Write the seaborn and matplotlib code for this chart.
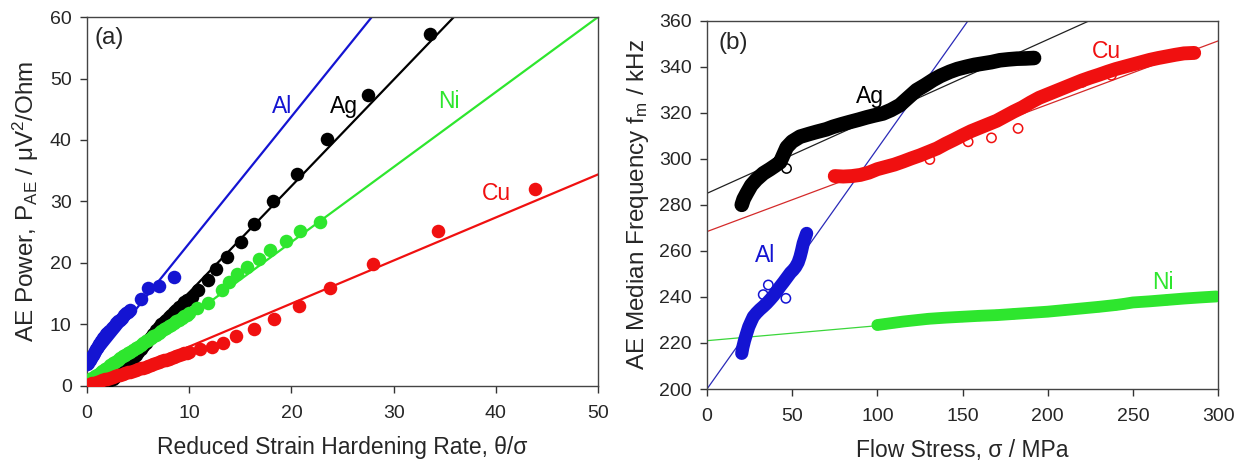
import numpy as np
import pandas as pd
import matplotlib
matplotlib.use("Agg")
import matplotlib.pyplot as plt
import seaborn as sns

# ---------------- Panel (a) data: P_AE vs reduced strain hardening rate ----------------
al_theta = [0.0, 0.1, 0.2, 0.3, 0.4, 0.5, 0.6, 0.7, 0.8, 0.9, 1.0, 1.1, 1.2, 1.3, 1.4, 1.5,
            1.6, 1.7, 1.8, 1.9, 2.0, 2.2, 2.4, 2.6, 2.8, 3.0, 3.2, 3.4, 3.6, 3.8, 4.0, 4.2,
            5.3, 6.0, 7.0, 8.5]
al_power = [3.6, 3.8, 4.0, 4.2, 4.5, 4.8, 5.1, 5.4, 5.7, 6.0, 6.25, 6.5, 6.75, 7.0, 7.25, 7.5,
            7.75, 8.0, 8.2, 8.4, 8.6, 9.0, 9.4, 9.8, 10.2, 10.5, 10.8, 11.1, 11.5, 11.8, 12.1, 12.4,
            14.2, 15.9, 16.3, 17.7]

ag_theta = [0.0, 0.25, 0.5, 0.75, 1.0, 1.25, 1.5, 1.75, 2.0, 2.25, 2.5, 2.75, 3.0, 3.25, 3.5,
            3.75, 4.0, 4.25, 4.5, 4.75, 5.0, 5.25, 5.5, 5.75, 6.0, 6.25, 6.5, 6.75, 7.0, 7.25,
            7.5, 7.75, 8.0, 8.25, 8.5, 8.75, 9.0, 9.25, 9.5, 9.75, 10.3, 10.9, 11.8, 12.6,
            13.7, 15.1, 16.3, 18.2, 20.5, 23.5, 27.5, 33.6]
ag_power = [0.2, 0.2, 0.2, 0.25, 0.3, 0.4, 0.5, 0.65, 0.8, 1.0, 1.2, 1.5, 1.8, 2.2, 2.6,
            3.05, 3.5, 4.0, 4.5, 5.0, 5.5, 6.0, 6.5, 7.0, 7.5, 8.0, 8.5, 9.05, 9.6, 10.0,
            10.4, 10.8, 11.2, 11.6, 12.0, 12.4, 12.8, 13.2, 13.6, 14.05, 14.5, 15.6, 17.2, 19.0,
            21.0, 23.4, 26.3, 30.1, 34.5, 40.1, 47.3, 57.3]

ni_theta = [0.0, 0.25, 0.5, 0.75, 1.0, 1.25, 1.5, 1.75, 2.0, 2.25, 2.5, 2.75, 3.0, 3.25, 3.5,
            3.75, 4.0, 4.25, 4.5, 4.75, 5.0, 5.25, 5.5, 5.75, 6.0, 6.25, 6.5, 6.75, 7.0, 7.25,
            7.5, 7.75, 8.0, 8.25, 8.5, 8.75, 9.0, 9.25, 9.5, 9.75, 10.0, 10.8, 11.8, 13.2,
            13.9, 14.7, 15.7, 16.8, 17.9, 19.5, 20.8, 22.8]
ni_power = [0.8, 1.05, 1.3, 1.55, 1.8, 2.1, 2.4, 2.7, 3.0, 3.35, 3.7, 3.95, 4.2, 4.5, 4.8,
            5.05, 5.3, 5.6, 5.9, 6.15, 6.4, 6.7, 7.0, 7.25, 7.5, 7.8, 8.1, 8.35, 8.6, 8.9,
            9.2, 9.45, 9.7, 9.95, 10.2, 10.5, 10.8, 11.05, 11.3, 11.55, 11.8, 12.7, 13.5, 15.6,
            16.9, 18.2, 19.4, 20.7, 22.1, 23.6, 25.2, 26.7]

cu_theta = [0.0, 0.25, 0.5, 0.75, 1.0, 1.25, 1.5, 1.75, 2.0, 2.25, 2.5, 2.75, 3.0, 3.25, 3.5,
            3.75, 4.0, 4.25, 4.5, 4.75, 5.0, 5.25, 5.5, 5.75, 6.0, 6.25, 6.5, 6.75, 7.0, 7.25,
            7.5, 7.75, 8.0, 8.25, 8.5, 8.75, 9.0, 9.25, 9.5, 9.75, 10.0, 11.1, 12.2, 13.3,
            14.6, 16.3, 18.3, 20.7, 23.8, 28.0, 34.3, 43.8]
cu_power = [0.1, 0.25, 0.4, 0.55, 0.7, 0.85, 1.0, 1.1, 1.2, 1.3, 1.4, 1.55, 1.7, 1.85, 2.0,
            2.1, 2.2, 2.35, 2.5, 2.65, 2.8, 2.9, 3.0, 3.15, 3.3, 3.45, 3.6, 3.75, 3.9, 4.05,
            4.2, 4.3, 4.4, 4.55, 4.7, 4.85, 5.0, 5.15, 5.3, 5.4, 5.5, 6.0, 6.4, 7.0,
            8.1, 9.3, 10.9, 13.0, 15.9, 19.9, 25.2, 32.0]

# linear fits (intercept, slope) for panel (a)
fit_a_metals = ["Al", "Ag", "Ni", "Cu"]
fit_a_intercept = [2.6, -2.1, -1.0, -0.6]
fit_a_slope = [2.06, 1.73, 1.22, 0.70]

# ---------------- Panel (b) data: median frequency vs flow stress ----------------
ag_sigma = [20.4, 21.5, 23.3, 26, 29, 33.1, 37, 40, 42.9, 45, 46.8, 50, 54.6, 60, 64.3, 70,
            74.0, 79, 83.9, 89, 93.7, 98, 103.3, 108, 113.2, 118, 123, 128, 132.6, 137,
            142.5, 147, 152.3, 157, 162, 167, 171.9, 177, 182, 187, 192]
ag_fm = [280, 282.5, 285, 288.5, 291, 293.7, 295.5, 297, 298.5, 302, 305, 307.5, 309.6,
         310.8, 311.7, 312.8, 313.9, 315, 316, 317, 318, 318.8, 319.7, 321.2, 323.3, 326.5,
         329.8, 332, 334.2, 336, 337.8, 339, 340, 340.8, 341.4, 342, 342.8, 343.2, 343.5,
         343.6, 343.8]

cu_sigma = [75, 80, 85, 90, 95, 100, 105, 110, 115, 120, 125, 130, 135, 140, 145, 150, 155,
            160, 165, 170, 175, 180, 185, 190, 195, 200, 205, 210, 215, 220, 225, 230, 235,
            240, 245, 250, 255, 260, 265, 270, 275, 280, 286]
cu_fm = [292.5, 292.3, 292.5, 293, 294, 295.5, 296.5, 297.5, 298.8, 300.2, 301.5, 303, 304.5,
         306.5, 308.3, 310.2, 312, 313.5, 315, 316.5, 318.5, 320.5, 322.3, 324.5, 326.5, 328,
         329.5, 331, 332.5, 334, 335.3, 336.5, 337.8, 339, 340, 341, 342, 343, 343.8, 344.5,
         345.2, 345.8, 346]

al_sigma = [20.4, 21, 22, 23.3, 24.5, 26, 27.2, 29, 31, 33, 35, 37, 39, 41, 42.8, 45, 47, 49,
            50.6, 52, 53.5, 54.6, 55.5, 56.5, 57.5, 58.5]
al_fm = [215.5, 218, 221, 224.2, 227, 229.5, 231.4, 233, 234.5, 235.8, 237.2, 238.8, 240.5,
         242.5, 244.4, 246.5, 248.5, 250.5, 251.7, 253, 255, 257.4, 260, 263.3, 265.5, 267.6]

ni_sigma = [100, 105, 110, 115, 120, 130, 140, 150, 160, 170, 180, 190, 200, 210, 220, 230,
            240, 245, 250, 260, 270, 280, 290, 299]
ni_fm = [227.8, 228.3, 228.8, 229.3, 229.7, 230.5, 231, 231.4, 231.8, 232.1, 232.6, 233.1,
         233.6, 234.3, 235, 235.7, 236.5, 237, 237.6, 238.1, 238.7, 239.3, 239.8, 240.2]

# scattered outlying open circles
out_metal = ["Al", "Al", "Al", "Ag", "Cu", "Cu", "Cu", "Cu", "Cu", "Cu"]
out_sigma = [36.0, 46.3, 33.0, 46.7, 130.8, 153.3, 167.0, 182.6, 220.3, 237.4]
out_fm = [245.2, 239.4, 241.0, 295.8, 299.7, 307.4, 309.1, 313.2, 333.2, 336.3]

# linear fits (intercept, slope) for panel (b)
fit_b_metals = ["Al", "Ag", "Ni", "Cu"]
fit_b_intercept = [200.0, 285.0, 221.0, 268.4]
fit_b_slope = [1.044, 0.334, 0.065, 0.276]

colors = {"Al": "#1414d2", "Ag": "#000000", "Ni": "#2ee62e", "Cu": "#f01010"}
line_colors_b = {"Al": "#2a2ab8", "Ag": "#202020", "Ni": "#3ad63a", "Cu": "#d42a2a"}
band_width_b = {"Al": 9.5, "Ag": 10.5, "Ni": 8.5, "Cu": 10.0}

# ---------------- style ----------------
sns.set_theme(style="ticks")
plt.rcParams["font.family"] = ["Liberation Sans", "DejaVu Sans"]
plt.rcParams["mathtext.fontset"] = "custom"
plt.rcParams["mathtext.rm"] = "Liberation Sans"
plt.rcParams["mathtext.it"] = "Liberation Sans:italic"
plt.rcParams["mathtext.bf"] = "Liberation Sans:bold"

fig = plt.figure(figsize=(12.48, 4.65), dpi=100)
axA = fig.add_axes([0.0697, 0.170, 0.4095, 0.7934])
axB = fig.add_axes([0.5665, 0.1634, 0.4095, 0.7921])

TICK_FS = 14
XLAB_FS = 16.5
YLAB_FS = 17.5
TXT_FS = 16.5

# ---- panel (a) ----
xs = np.array([0.0, 50.0])
for m, b0, b1 in zip(fit_a_metals, fit_a_intercept, fit_a_slope):
    df = pd.DataFrame({"x": xs, "y": b0 + b1 * xs})
    sns.lineplot(data=df, x="x", y="y", ax=axA, color=colors[m], lw=1.6, zorder=2)

series_a = [("Ag", ag_theta, ag_power), ("Ni", ni_theta, ni_power),
            ("Cu", cu_theta, cu_power), ("Al", al_theta, al_power)]
for m, xv, yv in series_a:
    df = pd.DataFrame({"x": xv, "y": yv})
    sns.scatterplot(data=df, x="x", y="y", ax=axA, color=colors[m], s=95,
                    linewidth=0, zorder=3)

axA.set_xlim(0, 50)
axA.set_ylim(0, 60)
axA.set_xticks([0, 10, 20, 30, 40, 50])
axA.set_yticks([0, 10, 20, 30, 40, 50, 60])
axA.set_xlabel("Reduced Strain Hardening Rate, θ/σ", fontsize=XLAB_FS, labelpad=10)
axA.set_ylabel(r"AE Power, P$_{\mathrm{AE}}$ / μV$^{2}$/Ohm", fontsize=YLAB_FS, labelpad=6)
axA.text(0.014, 0.943, "(a)", transform=axA.transAxes, fontsize=17.5, va="center", ha="left")
axA.text(19.05, 45.5, "Al", color=colors["Al"], fontsize=TXT_FS, ha="center", va="center")
axA.text(25.1, 45.5, "Ag", color=colors["Ag"], fontsize=TXT_FS, ha="center", va="center")
axA.text(35.4, 46.2, "Ni", color=colors["Ni"], fontsize=TXT_FS, ha="center", va="center")
axA.text(40.1, 31.3, "Cu", color=colors["Cu"], fontsize=TXT_FS, ha="center", va="center")

# ---- panel (b) ----
xb = np.array([0.0, 300.0])
for m, b0, b1 in zip(fit_b_metals, fit_b_intercept, fit_b_slope):
    df = pd.DataFrame({"x": xb, "y": b0 + b1 * xb})
    sns.lineplot(data=df, x="x", y="y", ax=axB, color=line_colors_b[m], lw=0.9, zorder=2)

series_b = [("Ag", ag_sigma, ag_fm), ("Cu", cu_sigma, cu_fm),
            ("Ni", ni_sigma, ni_fm), ("Al", al_sigma, al_fm)]
for m, xv, yv in series_b:
    df = pd.DataFrame({"x": xv, "y": yv})
    sns.lineplot(data=df, x="x", y="y", ax=axB, color=colors[m], lw=band_width_b[m],
                 solid_capstyle="round", solid_joinstyle="round", zorder=3, sort=False)
    sns.scatterplot(data=df, x="x", y="y", ax=axB, s=45, facecolor="none",
                    edgecolor=colors[m], linewidth=1.0, zorder=4)

out_df = pd.DataFrame({"x": out_sigma, "y": out_fm, "metal": out_metal})
sns.scatterplot(data=out_df, x="x", y="y", hue="metal", palette=colors, ax=axB, s=45,
                facecolor="none", linewidth=1.1, legend=False, zorder=4)
for coll in axB.collections[-1:]:
    coll.set_facecolor("none")
    coll.set_edgecolor([colors[m] for m in out_metal])

axB.set_xlim(0, 300)
axB.set_ylim(200, 360)
axB.set_xticks([0, 50, 100, 150, 200, 250, 300])
axB.set_yticks(list(range(200, 361, 20)))
axB.set_xlabel(r"Flow Stress, σ / MPa", fontsize=XLAB_FS, labelpad=10)
axB.set_ylabel(r"AE Median Frequency f$_{\mathrm{m}}$ / kHz", fontsize=YLAB_FS, labelpad=6)
axB.text(0.022, 0.94, "(b)", transform=axB.transAxes, fontsize=17.5, va="center", ha="left")
axB.text(95.6, 326.9, "Ag", color=colors["Ag"], fontsize=TXT_FS, ha="center", va="center")
axB.text(234.5, 346.5, "Cu", color=colors["Cu"], fontsize=TXT_FS, ha="center", va="center")
axB.text(34.0, 257.8, "Al", color=colors["Al"], fontsize=TXT_FS, ha="center", va="center")
axB.text(267.6, 246.2, "Ni", color=colors["Ni"], fontsize=TXT_FS, ha="center", va="center")

for ax in (axA, axB):
    for sp in ax.spines.values():
        sp.set_visible(True)
        sp.set_color("#444444")
        sp.set_linewidth(1.0)
    ax.tick_params(axis="both", which="both", direction="out", length=5, width=1,
                   color="#333333", labelsize=TICK_FS, pad=6, top=False, right=False)
    ax.tick_params(axis="x", pad=9)

fig.savefig("out.png", dpi=100)
